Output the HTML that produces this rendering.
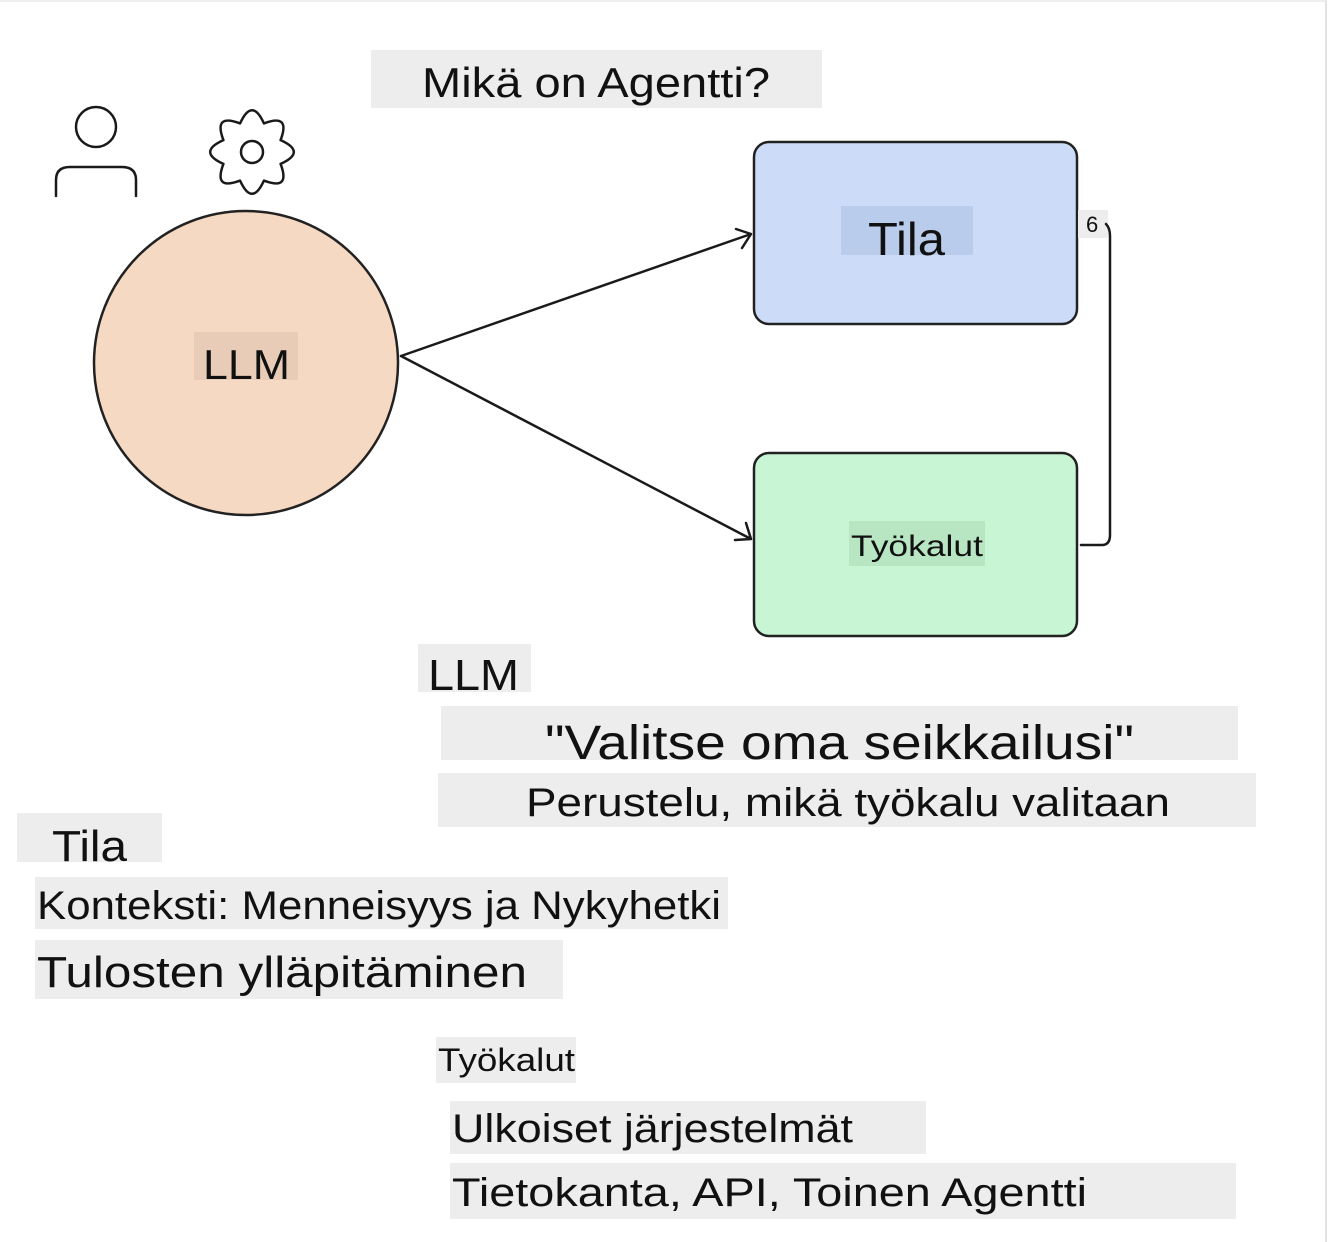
<!DOCTYPE html>
<html><head><meta charset="utf-8"><style>
html,body{margin:0;padding:0;background:#fff}
svg{display:block}
text{font-family:"Liberation Sans","DejaVu Sans",sans-serif;fill:#111}
</style></head><body>
<svg width="1334" height="1242" viewBox="0 0 1334 1242" xmlns="http://www.w3.org/2000/svg">
<rect x="0" y="0" width="1334" height="1242" fill="#fff"/>
<line x1="1326" y1="0" x2="1326" y2="1242" stroke="#e2e2e2" stroke-width="2"/>
<line x1="0" y1="1" x2="1326" y2="1" stroke="#eeeeee" stroke-width="2"/>
<circle cx="246" cy="363" r="152" fill="#f5d9c3" stroke="#222" stroke-width="2.5"/>
<rect x="754" y="142" width="323" height="182" rx="15" fill="#ccdcf8" stroke="#222" stroke-width="2.5"/>
<rect x="754" y="453" width="323" height="183" rx="15" fill="#c8f5d3" stroke="#222" stroke-width="2.5"/>
<g fill="#ededed">
<rect x="371" y="50" width="451" height="58"/>
<rect x="1078" y="210" width="30" height="28"/>
<rect x="418" y="644" width="113" height="48"/>
<rect x="441" y="706" width="797" height="54"/>
<rect x="438" y="773" width="818" height="54"/>
<rect x="17" y="813" width="145" height="49"/>
<rect x="35" y="877" width="693" height="52"/>
<rect x="35" y="940" width="528" height="59"/>
<rect x="436" y="1037" width="140" height="46"/>
<rect x="450" y="1101" width="476" height="53"/>
<rect x="450" y="1163" width="786" height="56"/>
</g>
<rect x="841" y="206" width="132" height="49" fill="#b9cceb"/>
<rect x="194" y="332" width="104" height="48" fill="#e8ccb7"/>
<rect x="849" y="521" width="136" height="45" fill="#b8e6c3"/>
<g fill="none" stroke="#1a1a1a" stroke-width="2.5" stroke-linecap="round" stroke-linejoin="round">
<path d="M401 356 L751 234 M736 229 L751 234 L742 248"/>
<path d="M401 356 L751 539 M735 540 L751 539 L746 523"/>
<path d="M1081 545 L1102 545 Q1110 545 1110 535 L1110 236 Q1110 228 1106 224"/>
<circle cx="96" cy="127" r="20"/>
<path d="M56 196 L56 180 Q56 167 70 167 L122 167 Q136 167 136 180 L136 196"/>
<path d="M280.6 140.1 Q307 152 280.6 163.9 Q290.9 190.9 263.9 180.6 Q252 207 240.1 180.6 Q213.1 190.9 223.4 163.9 Q197 152 223.4 140.1 Q213.1 113.1 240.1 123.4 Q252 97 263.9 123.4 Q290.9 113.1 280.6 140.1 Z"/>
<circle cx="252" cy="152" r="11"/>
</g>
<text x="422" y="97" font-size="42" textLength="348" lengthAdjust="spacingAndGlyphs">Mikä on Agentti?</text>
<text x="868" y="255" font-size="46" textLength="77" lengthAdjust="spacingAndGlyphs">Tila</text>
<text x="203" y="379" font-size="42" textLength="87" lengthAdjust="spacingAndGlyphs">LLM</text>
<text x="851" y="556" font-size="30" textLength="132" lengthAdjust="spacingAndGlyphs">Työkalut</text>
<text x="1086" y="232" font-size="22">6</text>
<text x="428" y="690" font-size="44" textLength="91" lengthAdjust="spacingAndGlyphs">LLM</text>
<text x="545" y="759" font-size="48" textLength="589" lengthAdjust="spacingAndGlyphs">"Valitse oma seikkailusi"</text>
<text x="526" y="816" font-size="40" textLength="644" lengthAdjust="spacingAndGlyphs">Perustelu, mikä työkalu valitaan</text>
<text x="52" y="861" font-size="44" textLength="75" lengthAdjust="spacingAndGlyphs">Tila</text>
<text x="37" y="919" font-size="40" textLength="684" lengthAdjust="spacingAndGlyphs">Konteksti: Menneisyys ja Nykyhetki</text>
<text x="37" y="987" font-size="44" textLength="490" lengthAdjust="spacingAndGlyphs">Tulosten ylläpitäminen</text>
<text x="438" y="1071" font-size="32" textLength="137" lengthAdjust="spacingAndGlyphs">Työkalut</text>
<text x="452" y="1142" font-size="40" textLength="401" lengthAdjust="spacingAndGlyphs">Ulkoiset järjestelmät</text>
<text x="452" y="1206" font-size="40" textLength="635" lengthAdjust="spacingAndGlyphs">Tietokanta, API, Toinen Agentti</text>
</svg>
</body></html>
